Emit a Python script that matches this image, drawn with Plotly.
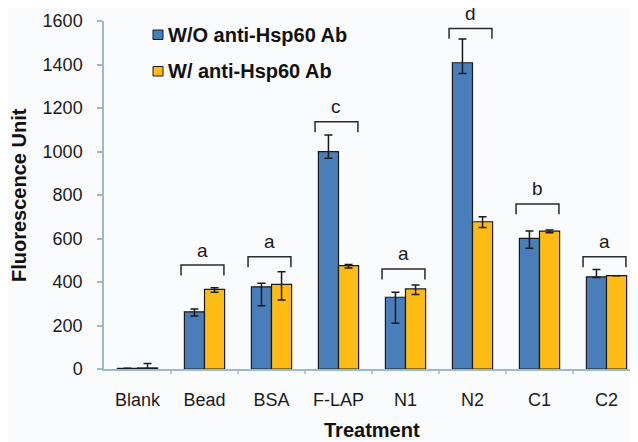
import plotly.graph_objects as go

categories = ["Blank", "Bead", "BSA", "F-LAP", "N1", "N2", "C1", "C2"]
series_names = ["W/O anti-Hsp60 Ab", "W/ anti-Hsp60 Ab"]

wo_mean = [3, 263, 378, 999, 330, 1408, 601, 424]
wo_err_plus = [0, 13, 16, 77, 23, 109, 33, 34]
wo_err_minus = [0, 19, 87, 30, 120, 49, 46, 3]

w_mean = [5, 366, 389, 475, 368, 677, 634, 429]
w_err_plus = [20, 8, 58, 6, 18, 23, 5, 0]
w_err_minus = [5, 13, 72, 11, 25, 26, 7, 0]

sig_letters = ["", "a", "a", "c", "a", "d", "b", "a"]
sig_level = [None, 478, 516, 1137, 460, 1566, 759, 516]

y_ticks = [0, 200, 400, 600, 800, 1000, 1200, 1400, 1600]

BLUE = "#4A7EBB"
YELLOW = "#FDBB13"
AXIS = "#9BBBCC"
FONT = "Liberation Sans, Arial, sans-serif"

# the page body adds an 8px margin, so the figure is 8px smaller than the window
OFF = 8
W, H = 638 - OFF, 442 - OFF
ML, MR, MT, MB = 104 - OFF, 0, 21 - OFF, 73
PW, PH = W - ML - MR, H - MT - MB


def px(x):  # window pixel -> paper x
    return (x - OFF - ML) / PW


def py(y):  # window pixel -> paper y
    return (H - MB - (y - OFF)) / PH


fig = go.Figure()
xs = list(range(len(categories)))
for name, vals, ep, em, col in [
    (series_names[0], wo_mean, wo_err_plus, wo_err_minus, BLUE),
    (series_names[1], w_mean, w_err_plus, w_err_minus, YELLOW),
]:
    fig.add_trace(go.Bar(
        x=xs, y=vals, name=name,
        marker=dict(color=col, line=dict(color="#1a1a1a", width=1.2)),
        error_y=dict(type="data", symmetric=False, array=ep, arrayminus=em,
                     color="#1a1a1a", thickness=1.5, width=4),
        showlegend=False,
    ))

shapes = []
annotations = []
for i, (lab, lvl) in enumerate(zip(sig_letters, sig_level)):
    if not lab:
        continue
    x0, x1 = i - 0.35, i + 0.29
    drop = 48
    shapes.append(dict(
        type="path", xref="x", yref="y",
        path=f"M {x0} {lvl - drop} L {x0} {lvl} L {x1} {lvl} L {x1} {lvl - drop}",
        line=dict(color="#2a2a2a", width=1.5),
    ))
    annotations.append(dict(
        x=(x0 + x1) / 2, y=lvl, xref="x", yref="y", text=lab, showarrow=False,
        yanchor="middle", yshift=15,
        font=dict(family=FONT, size=19, color="#1a1a1a"),
    ))

# manual legend
for (top, bot), col, name in [((30, 39.5), BLUE, series_names[0]),
                              ((66.5, 76), YELLOW, series_names[1])]:
    shapes.append(dict(
        type="rect", xref="paper", yref="paper",
        x0=px(153), x1=px(163), y0=py(bot), y1=py(top),
        fillcolor=col, line=dict(color="#1a1a1a", width=1),
    ))
    annotations.append(dict(
        x=px(166), y=py((top + bot) / 2), xref="paper", yref="paper",
        text=f"<b>{name}</b>", showarrow=False, xanchor="left", yanchor="middle",
        font=dict(family=FONT, size=20, color="#111111"),
    ))

# axis titles
annotations.append(dict(
    x=px(372), y=py(430), xref="paper", yref="paper", text="<b>Treatment</b>",
    showarrow=False, xanchor="center", yanchor="middle",
    font=dict(family=FONT, size=20, color="#111111"),
))
annotations.append(dict(
    x=px(19), y=py(195), xref="paper", yref="paper", text="<b>Fluorescence Unit</b>",
    showarrow=False, xanchor="center", yanchor="middle", textangle=-90,
    font=dict(family=FONT, size=20, color="#111111"),
))

fig.update_layout(
    width=W, height=H,
    margin=dict(l=ML, r=MR, t=MT, b=MB, pad=0, autoexpand=False),
    paper_bgcolor="#fafbfd", plot_bgcolor="#fafbfd",
    barmode="group", bargap=0.4, bargroupgap=0,
    shapes=shapes, annotations=annotations,
    showlegend=False,
    xaxis=dict(
        range=[-0.5, -0.5 + PW / 67.0], automargin=False,
        tickmode="array", tickvals=xs, ticktext=categories,
        showline=True, linecolor=AXIS, linewidth=1.5,
        ticks="", showgrid=False, zeroline=False,
        tickfont=dict(family=FONT, size=18, color="#1a1a1a"),
        ticklabelstandoff=14,
    ),
    yaxis=dict(
        range=[0, 1600], tickvals=y_ticks, automargin=False,
        showline=True, linecolor=AXIS, linewidth=1.5,
        ticks="outside", ticklen=5, tickcolor=AXIS, tickwidth=1.5,
        showgrid=False, zeroline=False,
        tickfont=dict(family=FONT, size=18, color="#1a1a1a"),
        ticklabelstandoff=11,
    ),
)

# category boundary ticks on the x axis
for b in range(len(categories)):
    fig.add_shape(type="line", xref="x", yref="paper",
                  x0=b + 0.5, x1=b + 0.5, y0=0, y1=py(374),
                  line=dict(color=AXIS, width=1.5))

fig.write_html("out.html")
